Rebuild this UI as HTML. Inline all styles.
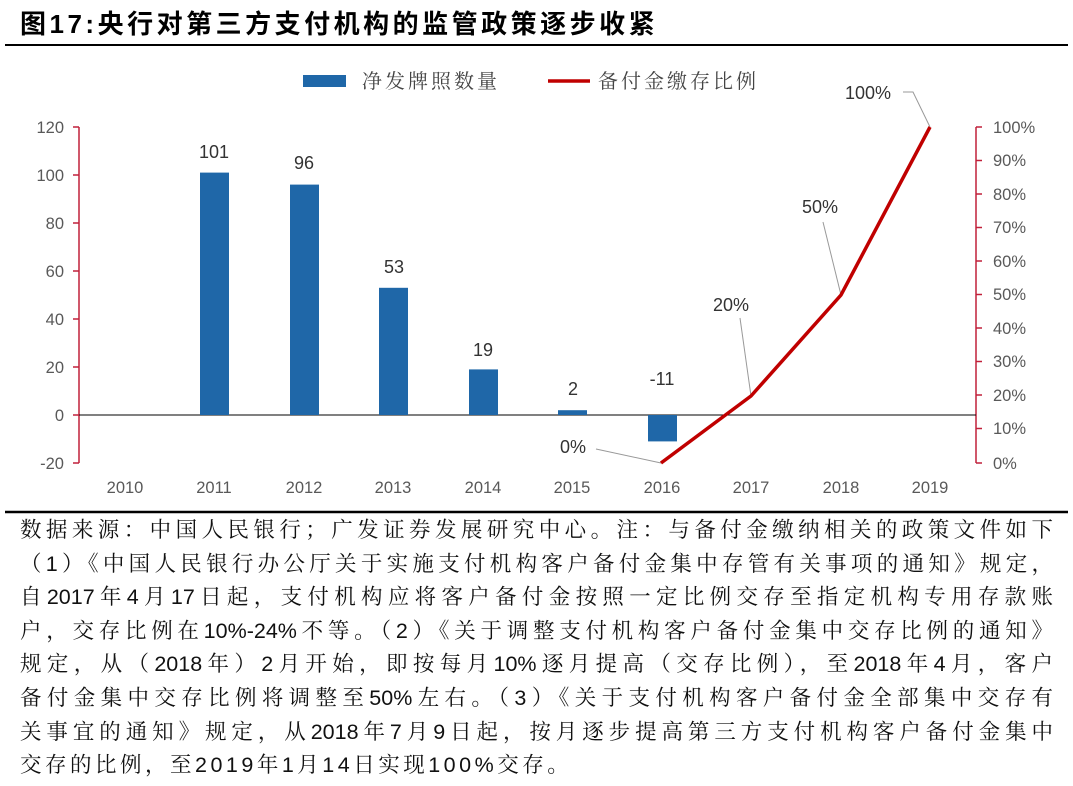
<!DOCTYPE html><html><head><meta charset="utf-8"><style>
body{margin:0;background:#fff;width:1073px;height:786px;overflow:hidden;font-family:"Liberation Sans","Noto Sans CJK SC",sans-serif}
.t{position:absolute;left:20px;top:4px;font-size:26px;font-weight:bold;color:#000;letter-spacing:3.5px;font-family:"Liberation Sans","Noto Sans CJK SC",sans-serif}
.note{position:absolute;left:20px;top:514px;width:1033px;font-size:21.5px;line-height:33.6px;color:#111;font-family:"Liberation Sans","Noto Serif CJK SC",serif}
.note div{text-align:justify;text-align-last:justify;white-space:nowrap}
.note div.l{text-align-last:left;letter-spacing:3.5px}
</style></head><body>
<div class="t">图17:央行对第三方支付机构的监管政策逐步收紧</div>
<svg style="position:absolute;left:0;top:0" width="1073" height="786" font-family="Liberation Sans, Noto Sans CJK SC, sans-serif">
<line x1="5" y1="45" x2="1068" y2="45" stroke="#000" stroke-width="2"/>
<line x1="5" y1="512" x2="1068" y2="512" stroke="#000" stroke-width="2.5"/>
<rect x="303" y="75" width="43" height="12" fill="#1f67a8"/>
<text x="362" y="88" font-size="20" fill="#444" font-family="Noto Serif CJK SC, serif" letter-spacing="3">净发牌照数量</text>
<line x1="548" y1="81" x2="590" y2="81" stroke="#c00000" stroke-width="3.5"/>
<text x="598" y="88" font-size="20" fill="#444" font-family="Noto Serif CJK SC, serif" letter-spacing="3">备付金缴存比例</text>
<g stroke="#c0203a" stroke-width="1.5" fill="none">
<line x1="79" y1="127" x2="79" y2="463"/>
<line x1="73" y1="127" x2="79" y2="127"/><line x1="73" y1="175" x2="79" y2="175"/><line x1="73" y1="223" x2="79" y2="223"/><line x1="73" y1="271" x2="79" y2="271"/><line x1="73" y1="319" x2="79" y2="319"/><line x1="73" y1="367" x2="79" y2="367"/><line x1="73" y1="415" x2="79" y2="415"/><line x1="73" y1="463" x2="79" y2="463"/>
<line x1="976" y1="127" x2="976" y2="463"/>
</g>
<g stroke="#c0203a" stroke-width="1.5">
<line x1="976" y1="127" x2="982" y2="127"/><line x1="976" y1="160.5" x2="982" y2="160.5"/><line x1="976" y1="194" x2="982" y2="194"/><line x1="976" y1="227.5" x2="982" y2="227.5"/><line x1="976" y1="261" x2="982" y2="261"/><line x1="976" y1="294.5" x2="982" y2="294.5"/><line x1="976" y1="328" x2="982" y2="328"/><line x1="976" y1="361.5" x2="982" y2="361.5"/><line x1="976" y1="395" x2="982" y2="395"/><line x1="976" y1="428.5" x2="982" y2="428.5"/><line x1="976" y1="463" x2="982" y2="463"/>
</g>
<line x1="79" y1="415" x2="976" y2="415" stroke="#000" stroke-width="1"/>
<g font-size="16.5" fill="#595959" text-anchor="end">
<text x="64" y="133">120</text><text x="64" y="181">100</text><text x="64" y="229">80</text><text x="64" y="277">60</text><text x="64" y="325">40</text><text x="64" y="373">20</text><text x="64" y="421">0</text><text x="64" y="469">-20</text>
</g>
<g font-size="16.5" fill="#595959">
<text x="993" y="133">100%</text><text x="993" y="166">90%</text><text x="993" y="200">80%</text><text x="993" y="233">70%</text><text x="993" y="267">60%</text><text x="993" y="300">50%</text><text x="993" y="334">40%</text><text x="993" y="367">30%</text><text x="993" y="401">20%</text><text x="993" y="434">10%</text><text x="993" y="469">0%</text>
</g>
<g font-size="16.5" fill="#595959" text-anchor="middle">
<text x="125" y="493">2010</text><text x="214" y="493">2011</text><text x="304" y="493">2012</text><text x="393" y="493">2013</text><text x="483" y="493">2014</text><text x="572" y="493">2015</text><text x="662" y="493">2016</text><text x="751" y="493">2017</text><text x="841" y="493">2018</text><text x="930" y="493">2019</text>
</g>
<g fill="#1f67a8">
<rect x="200" y="172.6" width="29" height="242.4"/>
<rect x="290" y="184.6" width="29" height="230.4"/>
<rect x="379" y="287.8" width="29" height="127.2"/>
<rect x="469" y="369.4" width="29" height="45.6"/>
<rect x="558" y="410.2" width="29" height="4.8"/>
<rect x="648" y="415" width="29" height="26.4"/>
</g>
<g font-size="18" fill="#333" text-anchor="middle">
<text x="214" y="158">101</text><text x="304" y="169">96</text><text x="394" y="273">53</text><text x="483" y="356">19</text><text x="573" y="395">2</text><text x="662" y="385">-11</text>
<text x="573" y="453">0%</text><text x="731" y="311">20%</text><text x="820" y="213">50%</text><text x="868" y="99">100%</text>
</g>
<g stroke="#999" stroke-width="1" fill="none">
<polyline points="596,449 661,463"/>
<polyline points="740,318 751,396"/>
<polyline points="823,222 841,295"/>
<polyline points="903,92 913,92 930,127"/>
</g>
<polyline points="661,463 751,396 841,295 930,127" fill="none" stroke="#c00000" stroke-width="3.5"/>
</svg>
<div class="note">
<div>数据来源：中国人民银行；广发证券发展研究中心。注：与备付金缴纳相关的政策文件如下</div>
<div>（1）《中国人民银行办公厅关于实施支付机构客户备付金集中存管有关事项的通知》规定，</div>
<div>自2017年4月17日起，支付机构应将客户备付金按照一定比例交存至指定机构专用存款账</div>
<div>户，交存比例在10%-24%不等。（2）《关于调整支付机构客户备付金集中交存比例的通知》</div>
<div>规定，从（2018年）2月开始，即按每月10%逐月提高（交存比例），至2018年4月，客户</div>
<div>备付金集中交存比例将调整至50%左右。（3）《关于支付机构客户备付金全部集中交存有</div>
<div>关事宜的通知》规定，从2018年7月9日起，按月逐步提高第三方支付机构客户备付金集中</div>
<div class="l">交存的比例，至2019年1月14日实现100%交存。</div>
</div>
</body></html>
